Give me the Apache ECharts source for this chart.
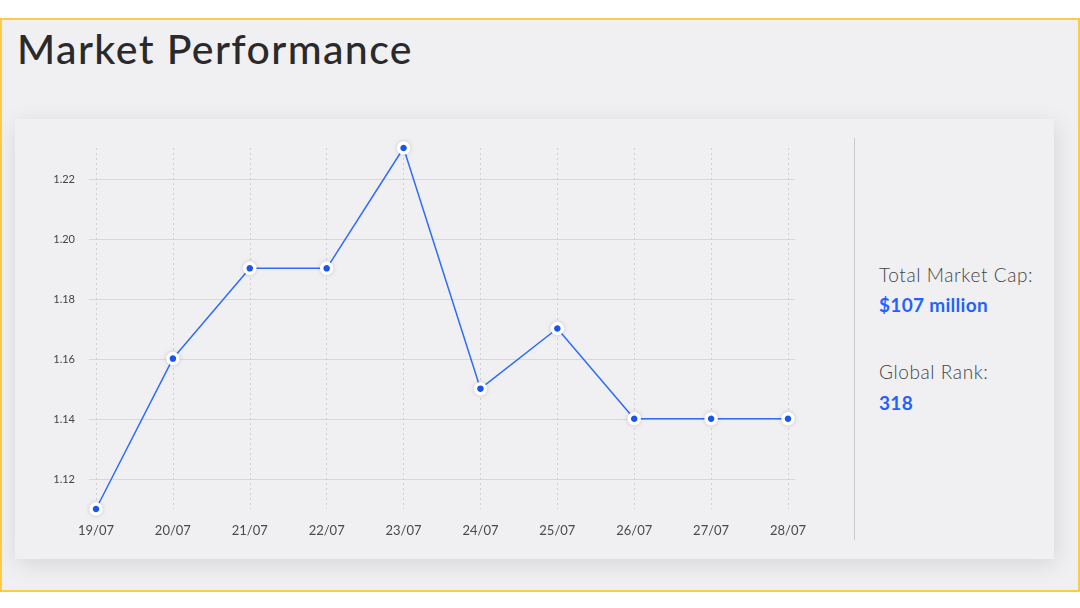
<!DOCTYPE html>
<html>
<head>
<meta charset="utf-8">
<script src="https://cdn.jsdelivr.net/npm/echarts@6/dist/echarts.min.js"></script>
<style>
  html, body { margin: 0; padding: 0; width: 1080px; height: 608px; background: #ffffff; overflow: hidden; font-family: Lato, "Open Sans", sans-serif; }
  #frame { position: absolute; left: 0; top: 18px; width: 1076px; height: 570px; border: 2px solid #FFCB45; background: #F0F0F3; }
  #title { position: absolute; left: 17px; top: 24px; font-size: 41px; font-weight: 500; color: #2a2a2a; letter-spacing: 1.4px; margin: 0; }
  #card { position: absolute; left: 15px; top: 119px; width: 1039px; height: 440px; background: #F0F0F2; box-shadow: 2px 5px 22px rgba(0,0,0,0.11); }
  #divider { position: absolute; left: 854px; top: 138px; width: 1px; height: 402px; background: #CACACA; }
  .lbl { position: absolute; left: 879px; font-size: 19px; color: #444; font-weight: 300; letter-spacing: 0.6px; }
  .val { position: absolute; left: 879px; font-size: 19px; color: #1F63FF; font-weight: 700; letter-spacing: 0.3px; }
  #chart { position: absolute; left: 0; top: 0; width: 1080px; height: 608px; }
</style>
</head>
<body>
<div id="frame"></div>
<h1 id="title">Market Performance</h1>
<div id="card"></div>
<div id="divider"></div>
<div class="lbl" style="top:263px">Total Market Cap:</div>
<div class="val" style="top:293px">$107 million</div>
<div class="lbl" style="top:360px">Global Rank:</div>
<div class="val" style="top:391px">318</div>
<div id="chart"></div>
<script>
const categories = ['19/07', '20/07', '21/07', '22/07', '23/07', '24/07', '25/07', '26/07', '27/07', '28/07'];
const prices = [1.11, 1.16, 1.19, 1.19, 1.23, 1.15, 1.17, 1.14, 1.14, 1.14];
const yMin = 1.11, yMax = 1.23;
const tickMin = 1.12, tickMax = 1.22, tickStep = 0.02;

const chart = echarts.init(document.getElementById('chart'), null, { renderer: 'canvas' });
chart.setOption({
  backgroundColor: 'transparent',
  animation: false,
  grid: [
    { left: 96, right: 292, top: 148, bottom: 99 },
    { left: 89, right: 285, top: 179, bottom: 129 }
  ],
  xAxis: [
    {
      gridIndex: 0, type: 'category', data: categories, boundaryGap: false,
      axisLine: { show: false }, axisTick: { show: false },
      axisLabel: { color: '#4a4a4a', fontSize: 13, margin: 15, fontFamily: 'Lato' },
      splitLine: { show: true, lineStyle: { color: '#CFCFCF', type: [2, 3], width: 1 } }
    },
    {
      gridIndex: 1, type: 'value', min: 0, max: 1, show: false
    }
  ],
  yAxis: [
    {
      gridIndex: 0, type: 'value', min: yMin, max: yMax,
      axisLine: { show: false }, axisTick: { show: false }, axisLabel: { show: false }, splitLine: { show: false }
    },
    {
      gridIndex: 1, type: 'value', min: tickMin, max: tickMax, interval: tickStep,
      axisLine: { show: false }, axisTick: { show: false },
      axisLabel: { color: '#444', fontSize: 11, margin: 14, fontFamily: 'Lato', formatter: v => v.toFixed(2) },
      splitLine: { show: true, lineStyle: { color: '#D8D8D8', width: 1 } }
    }
  ],
  series: [
    {
      type: 'line', xAxisIndex: 0, yAxisIndex: 0, data: prices,
      lineStyle: { color: '#2E6BFF', width: 1.5 },
      symbol: 'circle', symbolSize: 10,
      itemStyle: { color: '#1A5CFF', borderColor: '#FFFFFF', borderWidth: 3.5, shadowBlur: 5, shadowColor: 'rgba(0,0,0,0.15)' },
      z: 5
    }
  ]
});
</script>
</body>
</html>
